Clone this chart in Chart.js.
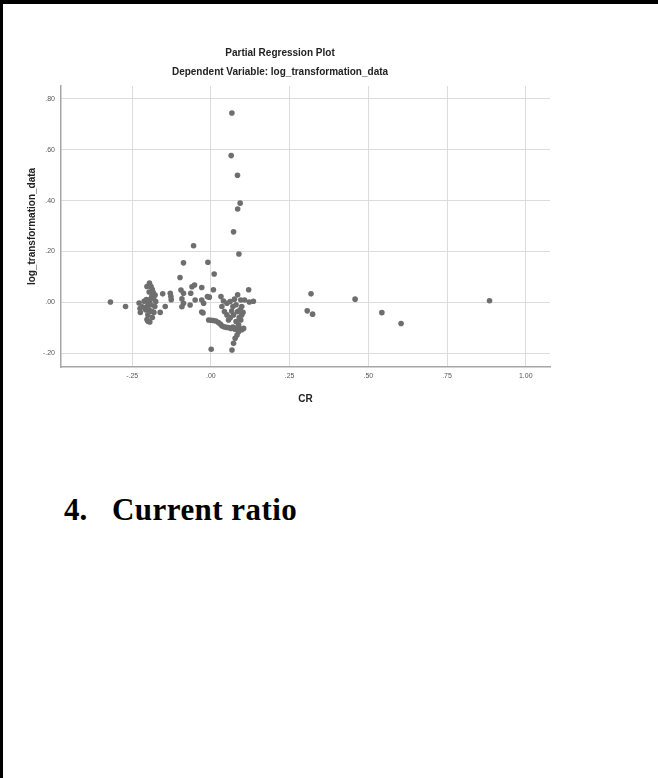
<!DOCTYPE html>
<html>
<head>
<meta charset="utf-8">
<title>Partial Regression Plot - CR</title>
<script src="https://cdn.jsdelivr.net/npm/chart.js@4.4.1/dist/chart.umd.min.js"></script>
<style>
  html, body { margin: 0; padding: 0; background: #fff; }
  body { width: 658px; height: 778px; position: relative; overflow: hidden; }
  .edge-top { position: absolute; left: 0; top: 0; width: 658px; height: 4px; background: #000; }
  .edge-left { position: absolute; left: 0; top: 0; width: 3px; height: 778px; background: #000; }
  #plot { position: absolute; left: 0; top: 0; }
  .heading {
    position: absolute; left: 64px; top: 494px;
    font-family: 'Liberation Serif', 'Times New Roman', serif;
    font-weight: bold; font-size: 31px; line-height: 31px; color: #000;
    white-space: nowrap;
  }
  .heading .num { display: inline-block; width: 48px; }
  .heading .txt { letter-spacing: 0.45px; }
</style>
</head>
<body>
<div class="edge-top"></div>
<div class="edge-left"></div>
<canvas id="plot" width="658" height="420"></canvas>
<div class="heading"><span class="num">4.</span><span class="txt">Current ratio</span></div>

<script>
  'use strict';

  // CR (x) and log_transformation_data (y)
  const crValues = [
    -0.319, -0.271,
    -0.228, -0.225, -0.224, -0.218, -0.212, -0.205, -0.203, -0.195, -0.190, -0.186,
    -0.183, -0.188, -0.193, -0.198, -0.203, -0.197, -0.188, -0.203, -0.194, -0.186,
    -0.181, -0.178, -0.175, -0.182, -0.177, -0.196, -0.200, -0.190, -0.207, -0.200,
    -0.161, -0.145, -0.153, -0.129, -0.127, -0.126, -0.098, -0.087, -0.095, -0.087,
    -0.092, -0.087, -0.092, -0.066, -0.064, -0.060, -0.052, -0.050, -0.055, -0.029,
    -0.029, -0.023, -0.029, -0.025, -0.011, -0.005, -0.0095, 0.0105, 0.008,
    -0.007, 0.001, 0.008, 0.016, 0.024, 0.030, 0.035, 0.042, 0.049, 0.056,
    0.064, 0.070, 0.077, 0.084, 0.091, 0.098, 0.104,
    0.032, 0.040, 0.035, 0.043, 0.051, 0.056, 0.061, 0.051, 0.070, 0.080,
    0.085, 0.072, 0.080, 0.088, 0.095, 0.098, 0.093, 0.098, 0.085, 0.095,
    0.107, 0.120, 0.135, 0.122, 0.062, 0.066, 0.075, 0.090, 0.102,
    0.088, 0.083, 0.077, 0.072, 0.067, 0.001,
    0.0667, 0.0645, 0.0845, 0.093, 0.085, 0.072, 0.089,
    0.318, 0.306, 0.323, 0.458, 0.543, 0.604, 0.885
  ];
  const logValues = [
    0.001, -0.017,
    -0.003, -0.025, -0.040, -0.018, 0.004, 0.010, 0.062, 0.075, 0.062, 0.050,
    0.038, 0.022, 0.010, -0.004, -0.017, -0.030, -0.036, -0.068, -0.078, -0.060,
    -0.040, -0.017, 0.003, 0.015, 0.028, 0.040, -0.050, -0.010, -0.030, -0.075,
    -0.040, -0.017, 0.033, 0.035, 0.022, 0.010, 0.097, 0.155, 0.048, 0.035,
    0.013, -0.004, -0.018, -0.011, 0.035, 0.061, 0.068, 0.009, 0.222, 0.058,
    0.009, -0.004, -0.039, -0.042, 0.022, 0.020, 0.157, 0.111, 0.049,
    -0.070, -0.071, -0.072, -0.074, -0.080, -0.086, -0.093, -0.097, -0.099, -0.100,
    -0.103, -0.098, -0.106, -0.100, -0.103, -0.108, -0.103,
    0.022, 0.005, -0.017, -0.037, -0.050, -0.070, 0.003, -0.004, -0.017, -0.010,
    -0.037, -0.050, -0.076, -0.089, -0.070, -0.050, -0.030, -0.017, 0.029, 0.009,
    0.009, 0.049, 0.004, 0.001, -0.060, -0.035, 0.012, -0.060, -0.040,
    -0.116, -0.129, -0.142, -0.162, -0.188, -0.185,
    0.745, 0.577, 0.500, 0.390, 0.367, 0.277, 0.190,
    0.033, -0.034, -0.047, 0.012, -0.041, -0.084, 0.006
  ];

  const xTickValues = [-0.25, 0, 0.25, 0.5, 0.75, 1.0];
  const yTickValues = [-0.2, 0, 0.2, 0.4, 0.6, 0.8];

  const narrow = "'Liberation Sans Narrow', 'Arial Narrow', 'Liberation Sans', Arial, sans-serif";
  const sans = "'Liberation Sans', Arial, sans-serif";

  // SPSS style: .80, -.25, 1.00
  function spssLabel(v) {
    return Number(v).toFixed(2).replace(/^(-?)0\./, '$1.');
  }

  const points = crValues.map((x, i) => ({ x, y: logValues[i] }));

  new Chart(document.getElementById('plot'), {
    type: 'scatter',
    data: {
      datasets: [{
        data: points,
        backgroundColor: '#6e6e6e',
        borderWidth: 0,
        pointRadius: 2.8
      }]
    },
    options: {
      responsive: false,
      devicePixelRatio: 1,
      animation: false,
      layout: { padding: { left: 10, right: 108, top: 40, bottom: 8 } },
      plugins: {
        legend: { display: false },
        tooltip: { enabled: false },
        title: {
          display: true,
          text: 'Partial Regression Plot',
          color: '#222',
          font: { family: narrow, size: 10, weight: 'bold' },
          padding: { top: 7, bottom: 2 }
        },
        subtitle: {
          display: true,
          text: 'Dependent Variable: log_transformation_data',
          color: '#222',
          font: { family: narrow, size: 10, weight: 'bold' },
          padding: { top: 5, bottom: 8 }
        }
      },
      scales: {
        x: {
          type: 'linear',
          min: -0.476,
          max: 1.077,
          afterFit: s => { s.height = 45; },
          afterBuildTicks: s => { s.ticks = xTickValues.map(v => ({ value: v })); },
          grid: { color: '#dcdcdc', lineWidth: 1, drawTicks: false },
          border: { display: true, color: '#a6a6a6', width: 1.5 },
          ticks: {
            color: '#555',
            padding: 5,
            maxRotation: 0,
            font: { family: narrow, size: 7 },
            callback: v => spssLabel(v)
          },
          title: {
            display: true,
            text: 'CR',
            color: '#222',
            font: { family: sans, size: 10, weight: 'bold' },
            padding: { top: 0, bottom: 7 }
          }
        },
        y: {
          type: 'linear',
          min: -0.255,
          max: 0.851,
          afterFit: s => { s.width = 51; },
          afterBuildTicks: s => { s.ticks = yTickValues.map(v => ({ value: v })); },
          grid: { color: '#dcdcdc', lineWidth: 1, drawTicks: false },
          border: { display: true, color: '#a6a6a6', width: 1.5 },
          ticks: {
            color: '#555',
            padding: 6,
            font: { family: narrow, size: 7 },
            callback: v => spssLabel(v)
          },
          title: {
            display: true,
            text: 'log_transformation_data',
            color: '#222',
            font: { family: sans, size: 10, weight: 'bold' },
            padding: { top: 16, bottom: 0 }
          }
        }
      }
    }
  });
</script>
</body>
</html>
